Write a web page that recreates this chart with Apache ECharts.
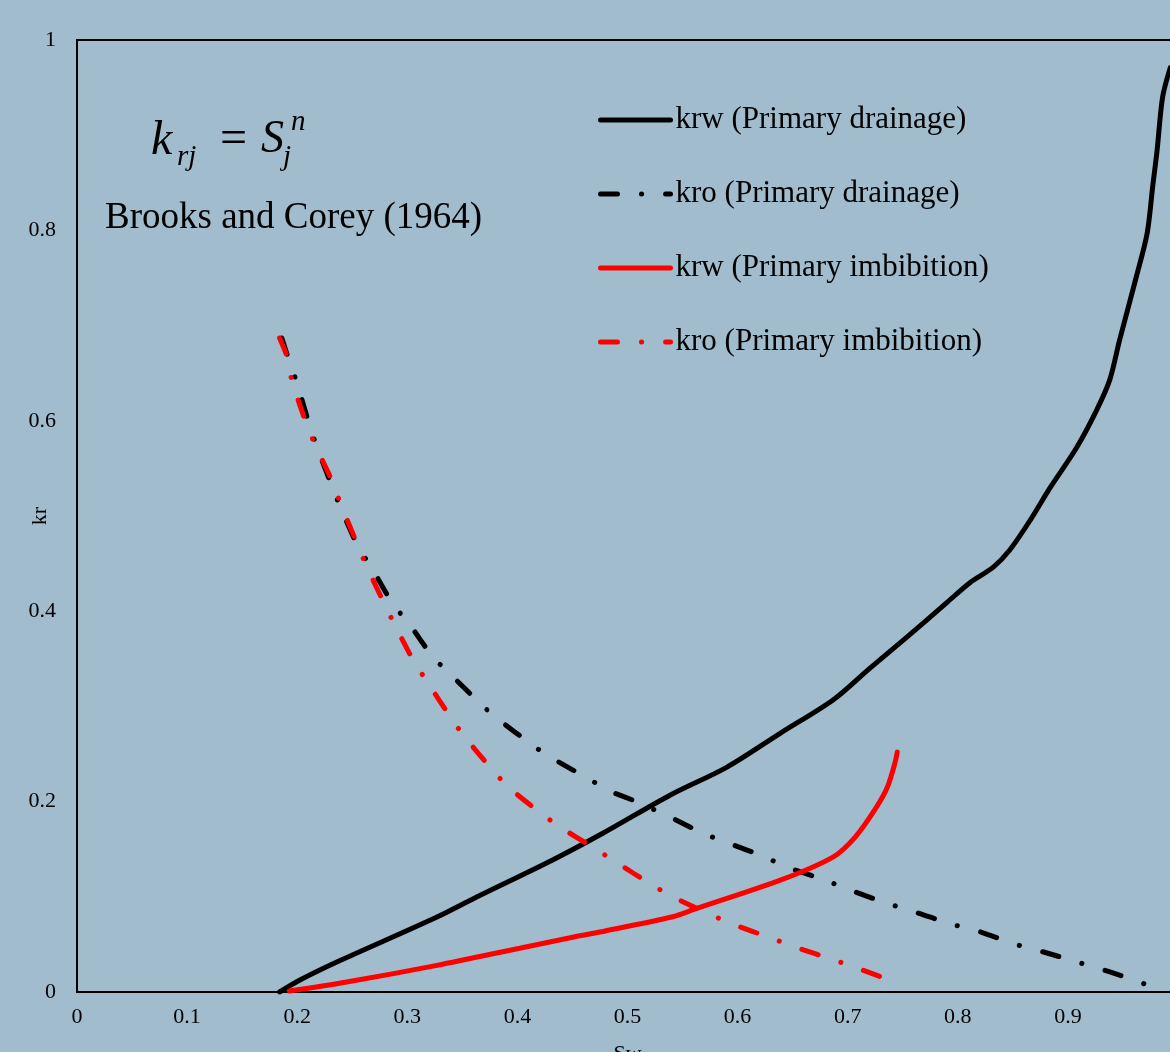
<!DOCTYPE html>
<html><head><meta charset="utf-8">
<script src="https://cdn.jsdelivr.net/npm/echarts@6/dist/echarts.min.js"></script>
<style>html,body{margin:0;padding:0;background:#a1bccc;} #c{width:1170px;height:1052px;}</style>
</head><body><div id="c"></div>
<script>
// Data (Sw, kr)
const seriesNames = ['krw (Primary drainage)', 'kro (Primary drainage)', 'krw (Primary imbibition)', 'kro (Primary imbibition)'];

const krwDrainSw = [0.184,0.2025,0.236,0.327,0.363,0.432,0.478,0.539,0.590,0.639,0.687,0.720,0.754,0.790,0.811,0.832,0.847,0.866,0.884,0.908,0.926,0.938,0.947,0.963,0.972,0.977,0.981,0.986,0.993];
const krwDrainKr = [0,0.0126,0.0315,0.0788,0.0998,0.1387,0.167,0.207,0.236,0.272,0.307,0.340,0.373,0.409,0.430,0.446,0.464,0.496,0.530,0.572,0.611,0.643,0.685,0.755,0.797,0.846,0.884,0.940,0.971];

const kroDrainSw = [0.186,0.193,0.200,0.211,0.218,0.232,0.240,0.256,0.268,0.287,0.301,0.323,0.339,0.368,0.382,0.414,0.431,0.466,0.484,0.508,0.540,0.568,0.595,0.622,0.650,0.678,0.707,0.736,0.764,0.792,0.821,0.850,0.878,0.907,0.936,0.965,0.975];
const kroDrainKr = [0.687,0.662,0.639,0.596,0.572,0.530,0.507,0.466,0.445,0.407,0.388,0.352,0.334,0.301,0.287,0.259,0.246,0.223,0.211,0.200,0.183,0.167,0.155,0.143,0.129,0.118,0.105,0.093,0.083,0.072,0.063,0.051,0.042,0.032,0.022,0.0105,0.006];

const krwImbSw = [0.193,0.245,0.327,0.402,0.448,0.475,0.541,0.561,0.640,0.687,0.707,0.726,0.736,0.743,0.745];
const krwImbKr = [0.001,0.0105,0.028,0.046,0.057,0.063,0.079,0.087,0.118,0.142,0.163,0.194,0.215,0.241,0.252];

const kroImbSw = [0.184,0.191,0.195,0.207,0.215,0.232,0.239,0.254,0.262,0.279,0.288,0.306,0.318,0.339,0.352,0.376,0.391,0.421,0.439,0.470,0.490,0.523,0.541,0.576,0.596,0.632,0.653,0.689,0.709,0.746];
const kroImbKr = [0.687,0.667,0.643,0.601,0.578,0.536,0.514,0.472,0.450,0.408,0.387,0.347,0.326,0.289,0.268,0.235,0.216,0.188,0.173,0.151,0.136,0.112,0.100,0.081,0.071,0.056,0.047,0.033,0.025,0.009];

const zip = (a, b) => a.map((v, i) => [v, b[i]]);
const serif = 'Liberation Serif';
const dashDot = [17, 24, 0.1, 24];

const chart = echarts.init(document.getElementById('c'), null, {renderer: 'canvas'});
chart.setOption({
  backgroundColor: '#a1bccc',
  animation: false,
  grid: {left: 77, top: 40, right: -8, bottom: 60, containLabel: false, outerBoundsMode: 'none',
         show: true, borderColor: '#000', borderWidth: 2, backgroundColor: 'transparent'},
  xAxis: {
    type: 'value', min: 0, max: 1, interval: 0.1,
    name: 'Sw', nameLocation: 'middle', nameGap: 51, nameMoveOverlap: false,
    nameTextStyle: {fontFamily: serif, fontSize: 22, color: '#000'},
    axisLine: {lineStyle: {color: '#000', width: 2}},
    axisTick: {show: false}, splitLine: {show: false},
    axisLabel: {fontFamily: serif, fontSize: 22, color: '#000', margin: 14}
  },
  yAxis: {
    type: 'value', min: 0, max: 1, interval: 0.2,
    name: 'kr', nameLocation: 'middle', nameGap: 26, nameRotate: 90, nameMoveOverlap: false,
    nameTextStyle: {fontFamily: serif, fontSize: 22, color: '#000'},
    axisLine: {show: true, lineStyle: {color: '#000', width: 2}},
    axisTick: {show: false}, splitLine: {show: false},
    axisLabel: {fontFamily: serif, fontSize: 22, color: '#000', margin: 21, padding: [5, 0, 0, 0]}
  },
  legend: {
    orient: 'vertical', left: 598, top: 104, padding: 0,
    itemWidth: 70, itemHeight: 14, itemGap: 42,
    itemStyle: {opacity: 0, borderWidth: 0},
    lineStyle: {width: 5, cap: 'round'},
    textStyle: {fontFamily: serif, fontSize: 31, color: '#000', lineHeight: 32, padding: [0, 0, 0, 0]},
    data: seriesNames
  },
  series: [
    {name: seriesNames[0], type: 'line', data: zip(krwDrainSw, krwDrainKr), symbol: 'none', smooth: 0.3,
     itemStyle: {color: '#000'}, lineStyle: {color: '#000', width: 5, cap: 'round'}},
    {name: seriesNames[1], type: 'line', data: zip(kroDrainSw, kroDrainKr), symbol: 'none', smooth: 0.2,
     itemStyle: {color: '#000'}, lineStyle: {color: '#000', width: 5, type: dashDot, cap: 'round'}},
    {name: seriesNames[2], type: 'line', data: zip(krwImbSw, krwImbKr), symbol: 'none', smooth: 0.3,
     itemStyle: {color: '#ff0000'}, lineStyle: {color: '#ff0000', width: 5, cap: 'round'}},
    {name: seriesNames[3], type: 'line', data: zip(kroImbSw, kroImbKr), symbol: 'none', smooth: 0.2,
     itemStyle: {color: '#ff0000'}, lineStyle: {color: '#ff0000', width: 5, type: dashDot, cap: 'round'}}
  ],
  graphic: [
    {type: 'text', left: 151, top: 117, style: {text: 'k', fontFamily: serif, fontStyle: 'italic', fontSize: 48, fill: '#000'}},
    {type: 'text', left: 177, top: 143, style: {text: 'rj', fontFamily: serif, fontStyle: 'italic', fontSize: 29, fill: '#000'}},
    {type: 'text', left: 220, top: 116, style: {text: '=', fontFamily: serif, fontSize: 48, fill: '#000'}},
    {type: 'text', left: 261, top: 117, style: {text: 'S', fontFamily: serif, fontStyle: 'italic', fontSize: 46, fill: '#000'}},
    {type: 'text', left: 283, top: 143, style: {text: 'j', fontFamily: serif, fontStyle: 'italic', fontSize: 29, fill: '#000'}},
    {type: 'text', left: 291, top: 108, style: {text: 'n', fontFamily: serif, fontStyle: 'italic', fontSize: 29, fill: '#000'}},
    {type: 'text', left: 105, top: 200, style: {text: 'Brooks and Corey (1964)', fontFamily: serif, fontSize: 37, fill: '#000'}}
  ]
});
</script></body></html>
